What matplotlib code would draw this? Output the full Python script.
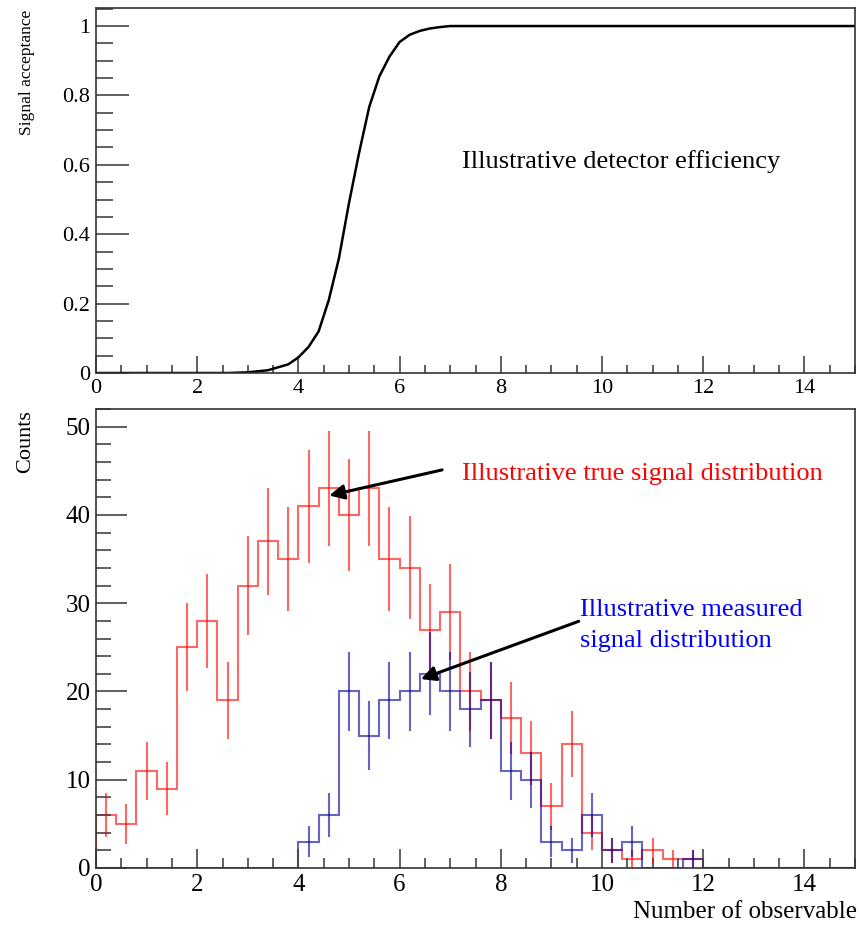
import numpy as np
import matplotlib
matplotlib.use("Agg")
import matplotlib.pyplot as plt
from matplotlib.ticker import MultipleLocator

plt.rcParams['font.family'] = ['Liberation Serif', 'DejaVu Serif']

# efficiency curve
eff_x = [0.0, 2.6, 3.0, 3.4, 3.8, 4.0, 4.2, 4.4, 4.6, 4.8, 5.0, 5.2, 5.4,
         5.6, 5.8, 6.0, 6.2, 6.4, 6.6, 6.8, 7.0, 15.0]
eff_y = [0.0, 0.0, 0.002, 0.008, 0.025, 0.045, 0.075, 0.12, 0.21, 0.33,
         0.49, 0.635, 0.767, 0.855, 0.912, 0.954, 0.975, 0.986, 0.993,
         0.997, 1.0, 1.0]

# histograms, 40 bins of width 0.4
bin_edges = np.linspace(0, 16, 41)
true_counts = [6, 5, 11, 9, 25, 28, 19, 32, 37, 35,
               41, 43, 40, 43, 35, 34, 27, 29, 20, 19,
               17, 13, 7, 14, 4, 2, 1, 2, 1, 1,
               0, 0, 0, 0, 0, 0, 0, 0, 0, 0]
meas_counts = [0, 0, 0, 0, 0, 0, 0, 0, 0, 0,
               3, 6, 20, 15, 19, 20, 22, 20, 18, 19,
               11, 10, 3, 2, 6, 2, 3, 0, 0, 1,
               0, 0, 0, 0, 0, 0, 0, 0, 0, 0]


def style_axes(ax, xmaj, xmin, ymaj, ymin, xlen, ylen, fs):
    ax.xaxis.set_major_locator(MultipleLocator(xmaj))
    ax.xaxis.set_minor_locator(MultipleLocator(xmin))
    ax.yaxis.set_major_locator(MultipleLocator(ymaj))
    ax.yaxis.set_minor_locator(MultipleLocator(ymin))
    ax.tick_params(axis='x', which='major', direction='in', length=xlen, width=1.2,
                   labelsize=fs, pad=4, color='#444444')
    ax.tick_params(axis='x', which='minor', direction='in', length=xlen / 2, width=1.2,
                   color='#444444')
    ax.tick_params(axis='y', which='major', direction='in', length=ylen, width=1.2,
                   labelsize=fs, pad=4, color='#444444')
    ax.tick_params(axis='y', which='minor', direction='in', length=ylen / 2, width=1.2,
                   color='#444444')
    for s in ax.spines.values():
        s.set_color('#333333')
        s.set_linewidth(1.2)


fig = plt.figure(figsize=(8.6, 9.25), dpi=100)

# top panel
ax1 = fig.add_axes([96 / 860, 1 - 373 / 925, 759 / 860, 365 / 925])
ax1.plot(eff_x, eff_y, color='black', lw=1.8)
ax1.set_xlim(0, 15)
ax1.set_ylim(0, 1.052)
style_axes(ax1, 2, 0.5, 0.2, 0.05, 12, 24, 16)
ax1.yaxis.set_major_formatter(plt.FuncFormatter(lambda v, p: '%g' % round(v, 2)))
ax1.text(7.23, 0.59, 'Illustrative detector efficiency', fontsize=19,
         ha='left', va='baseline')

# bottom panel
ax2 = fig.add_axes([96 / 860, 1 - 868 / 925, 759 / 860, 459 / 925])
true_counts = np.array(true_counts, dtype=float)
meas_counts = np.array(meas_counts, dtype=float)
centers = 0.5 * (bin_edges[:-1] + bin_edges[1:])

ax2.stairs(true_counts, bin_edges, color='red', alpha=0.6, lw=1.5)
m = true_counts > 0
ax2.vlines(centers[m], true_counts[m] - np.sqrt(true_counts[m]),
           true_counts[m] + np.sqrt(true_counts[m]), color='red', alpha=0.6, lw=1.5)

ax2.stairs(meas_counts, bin_edges, color='#000099', alpha=0.6, lw=1.5)
m = meas_counts > 0
ax2.vlines(centers[m], meas_counts[m] - np.sqrt(meas_counts[m]),
           meas_counts[m] + np.sqrt(meas_counts[m]), color='#000099', alpha=0.6, lw=1.5)

ax2.set_xlim(0, 15)
ax2.set_ylim(0, 52)
style_axes(ax2, 2, 0.5, 10, 2, 14, 22, 18)

ax2.text(7.23, 43.9, 'Illustrative true signal distribution', fontsize=19,
         color='red', ha='left', va='baseline')
ax2.text(9.57, 28.5, 'Illustrative measured', fontsize=19,
         color='blue', ha='left', va='baseline')
ax2.text(9.57, 25.0, 'signal distribution', fontsize=19,
         color='blue', ha='left', va='baseline')

arrow = dict(arrowstyle='-|>', color='black', lw=2.2, mutation_scale=22,
             shrinkA=0, shrinkB=0)
ax2.annotate('', xy=(4.61, 42.2), xytext=(6.84, 45.1), arrowprops=arrow)
ax2.annotate('', xy=(6.42, 21.4), xytext=(9.54, 27.95), arrowprops=arrow)

# axis titles placed like ROOT (at the end of the axis)
fig.text(27 / 860, 1 - 10 / 925, 'Signal acceptance', rotation=90, fontsize=12.5,
         ha='center', va='top')
fig.text(26 / 860, 1 - 410 / 925, 'Counts', rotation=90, fontsize=16,
         ha='center', va='top')
fig.text(857 / 860, (925 - 918) / 925, 'Number of observable', fontsize=18,
         ha='right', va='baseline')

fig.savefig('out.png', dpi=100)
